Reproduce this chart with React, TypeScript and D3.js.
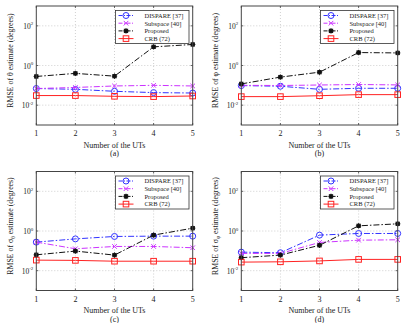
import React from "react";
import * as d3 from "d3";

const uts = [1, 2, 3, 4, 5];
const seriesNames = ["DISPARE [37]", "Subspace [40]", "Proposed", "CRB (72)"];
const yTicks = [1e-2, 1, 1e2];
const panelLetters = ["(a)", "(b)", "(c)", "(d)"];

// panel (a): theta
const aDispare = [0.069, 0.063, 0.05, 0.043, 0.041];
const aSubspace = [0.069, 0.078, 0.093, 0.1, 0.093];
const aProposed = [0.28, 0.4, 0.29, 8.7, 11.5];
const aCrb = [0.0305, 0.0305, 0.028, 0.027, 0.029];
// panel (b): phi
const bDispare = [0.097, 0.09, 0.063, 0.071, 0.071];
const bSubspace = [0.1, 0.098, 0.104, 0.11, 0.105];
const bProposed = [0.118, 0.26, 0.46, 4.5, 4.3];
const bCrb = [0.027, 0.027, 0.03, 0.034, 0.034];
// panel (c): sigma theta
const cDispare = [0.275, 0.4, 0.53, 0.55, 0.55];
const cSubspace = [0.275, 0.127, 0.166, 0.166, 0.143];
const cProposed = [0.063, 0.097, 0.061, 0.62, 1.39];
const cCrb = [0.034, 0.033, 0.03, 0.03, 0.03];
// panel (d): sigma phi
const dDispare = [0.086, 0.08, 0.62, 0.75, 0.75];
const dSubspace = [0.074, 0.074, 0.264, 0.345, 0.36];
const dProposed = [0.045, 0.061, 0.19, 1.82, 2.3];
const dCrb = [0.027, 0.028, 0.031, 0.037, 0.037];

const panelData = [
  [aDispare, aSubspace, aProposed, aCrb],
  [bDispare, bSubspace, bProposed, bCrb],
  [cDispare, cSubspace, cProposed, cCrb],
  [dDispare, dSubspace, dProposed, dCrb],
];

const styles = [
  { color: "#3333ff", dash: "6,2,1.5,2", marker: "circle" },
  { color: "#cc33ff", dash: "6,2,1.5,2", marker: "x" },
  { color: "#111111", dash: "6,2,1.5,2", marker: "star" },
  { color: "#ff2222", dash: "", marker: "square" },
];

const FONT = "'Liberation Serif', 'DejaVu Serif', serif";

function Marker({ type, x, y, color }: { type: string; x: number; y: number; color: string }) {
  if (type === "circle")
    return <circle cx={x} cy={y} r={3} fill="none" stroke={color} strokeWidth={1} />;
  if (type === "square")
    return <rect x={x - 2.8} y={y - 2.8} width={5.6} height={5.6} fill="none" stroke={color} strokeWidth={1} />;
  if (type === "x")
    return (
      <g stroke={color} strokeWidth={1}>
        <line x1={x - 2.3} y1={y - 2.3} x2={x + 2.3} y2={y + 2.3} />
        <line x1={x - 2.3} y1={y + 2.3} x2={x + 2.3} y2={y - 2.3} />
      </g>
    );
  return (
    <g stroke={color} strokeWidth={0.9}>
      <rect x={x - 1.7} y={y - 1.7} width={3.4} height={3.4} fill={color} />
      <line x1={x - 2.7} y1={y} x2={x + 2.7} y2={y} />
      <line x1={x} y1={y - 2.7} x2={x} y2={y + 2.7} />
    </g>
  );
}

function YLabel({ idx }: { idx: number }) {
  const sym = idx === 0 || idx === 2 ? "θ" : "φ";
  if (idx < 2) return <tspan>RMSE of {sym} estimate (degrees)</tspan>;
  return (
    <>
      <tspan>RMSE of σ</tspan>
      <tspan fontSize={5.5} dy={2}>{sym}</tspan>
      <tspan dy={-2}> estimate (degrees)</tspan>
    </>
  );
}

function Panel({ idx, ox, oy }: { idx: number; ox: number; oy: number }) {
  const x = d3.scaleLinear().domain([1, 5]).range([36.3, 192.7]);
  const y = d3.scaleLog().domain([1e-3, 1e3]).range([125, 6]);
  const data = panelData[idx];
  const line = (vals: number[]) =>
    d3
      .line<number>()
      .x((_, i) => x(uts[i]))
      .y((v) => y(v))(vals) as string;
  const x0 = x.range()[0];
  const x1 = x.range()[1];
  const y0 = y.range()[0];
  const y1 = y.range()[1];
  const legX = 115.5;
  const legY = 10.5;
  return (
    <g transform={`translate(${ox},${oy})`}>
      <rect x={x0} y={y1} width={x1 - x0} height={y0 - y1} fill="#fff" />
      {uts.slice(1, 4).map((u) => (
        <line key={u} x1={x(u)} x2={x(u)} y1={y1} y2={y0} stroke="#bbb" strokeWidth={0.7} strokeDasharray="1,2" />
      ))}
      {yTicks.map((t) => (
        <line key={t} x1={x0} x2={x1} y1={y(t)} y2={y(t)} stroke="#bbb" strokeWidth={0.7} strokeDasharray="1,2" />
      ))}
      {data.map((vals, si) => (
        <g key={si}>
          <path d={line(vals)} fill="none" stroke={styles[si].color} strokeWidth={1} strokeDasharray={styles[si].dash} />
          {vals.map((v, i) => (
            <Marker key={i} type={styles[si].marker} x={x(uts[i])} y={y(v)} color={styles[si].color} />
          ))}
        </g>
      ))}
      <rect x={x0} y={y1} width={x1 - x0} height={y0 - y1} fill="none" stroke="#444" strokeWidth={1} />
      {uts.map((u) => (
        <g key={u}>
          <line x1={x(u)} x2={x(u)} y1={y0} y2={y0 - 2} stroke="#444" strokeWidth={0.8} />
          <line x1={x(u)} x2={x(u)} y1={y1} y2={y1 + 2} stroke="#444" strokeWidth={0.8} />
          <text x={x(u)} y={y0 + 11} fontSize={8} textAnchor="middle" fontFamily={FONT} fill="#222">
            {u}
          </text>
        </g>
      ))}
      {yTicks.map((t) => (
        <g key={t}>
          <line x1={x0} x2={x0 + 2} y1={y(t)} y2={y(t)} stroke="#444" strokeWidth={0.8} />
          <line x1={x1} x2={x1 - 2} y1={y(t)} y2={y(t)} stroke="#444" strokeWidth={0.8} />
          <text x={x0 - 3} y={y(t) + 3} fontSize={7.5} textAnchor="end" fontFamily={FONT} fill="#222">
            10
            <tspan fontSize={5} dy={-3.5}>{Math.round(Math.log10(t))}</tspan>
          </text>
        </g>
      ))}
      <text x={(x0 + x1) / 2} y={y0 + 22.5} fontSize={8} textAnchor="middle" fontFamily={FONT} fill="#222">
        Number of the UTs
      </text>
      <text x={(x0 + x1) / 2} y={y0 + 31} fontSize={8} textAnchor="middle" fontFamily={FONT} fill="#222">
        {panelLetters[idx]}
      </text>
      <text
        transform={`translate(13,${(y0 + y1) / 2 - 5}) rotate(-90)`}
        fontSize={7.8}
        textAnchor="middle"
        fontFamily={FONT}
        fill="#222"
      >
        <YLabel idx={idx} />
      </text>
      <rect x={legX} y={legY} width={73.5} height={33} fill="#fff" stroke="#333" strokeWidth={0.8} />
      {seriesNames.map((name, si) => {
        const ly = legY + 5 + si * 7.7;
        return (
          <g key={name}>
            <line x1={legX + 3} x2={legX + 18} y1={ly} y2={ly} stroke={styles[si].color} strokeWidth={1} strokeDasharray={styles[si].dash ? "4,1.5,1,1.5" : ""} />
            <Marker type={styles[si].marker} x={legX + 10.5} y={ly} color={styles[si].color} />
            <text x={legX + 29} y={ly + 2.3} fontSize={6.5} fontFamily={FONT} fill="#222">
              {name}
            </text>
          </g>
        );
      })}
    </g>
  );
}

export default function App() {
  return (
    <svg width={415} height={323} style={{ position: "absolute", left: 0, top: 0, background: "#fff" }}>
      <rect width={415} height={323} fill="#fff" />
      <Panel idx={0} ox={0} oy={0} />
      <Panel idx={1} ox={205} oy={0} />
      <Panel idx={2} ox={0} oy={165.5} />
      <Panel idx={3} ox={205} oy={165.5} />
    </svg>
  );
}
